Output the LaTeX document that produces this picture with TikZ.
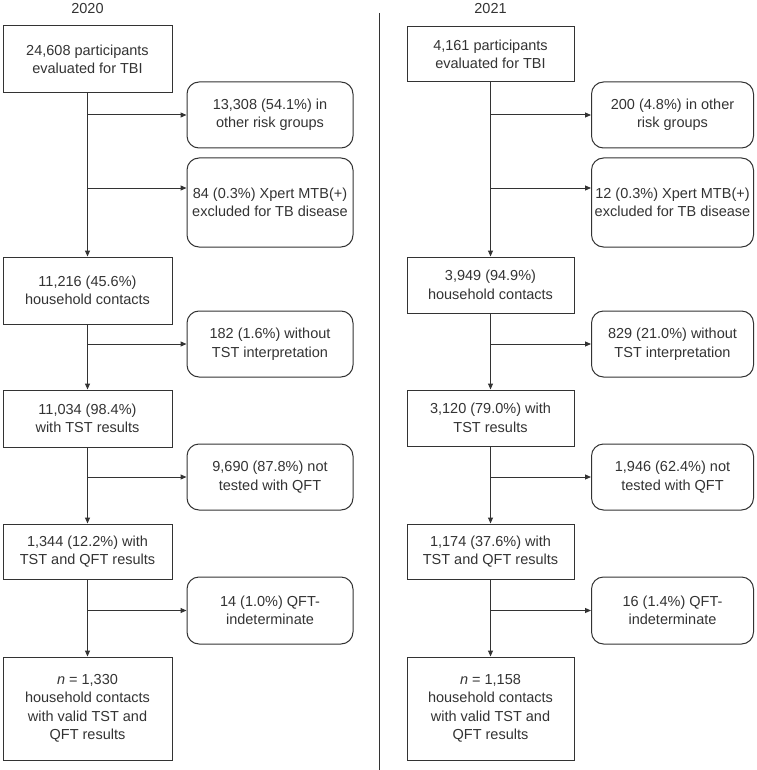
\documentclass[tikz,border=0pt]{standalone}
\usepackage{fontspec}
\setmainfont{Liberation Sans}
\usetikzlibrary{arrows.meta}
\definecolor{ink}{HTML}{333333}

\begin{document}
\begin{tikzpicture}[x=1pt,y=-1pt,>={Stealth[length=6pt,width=5pt,inset=0pt]},
  every node/.style={text=ink,font=\fontsize{14.5}{18.5}\selectfont},
  mainbox/.style={draw=ink,line width=1pt,align=center,inner sep=2pt,minimum width=#1},
  sidebox/.style={mainbox=#1,rounded corners=12pt},
  flow/.style={draw=ink,line width=1pt,->}]
  \useasboundingbox (0,0) rectangle (756,770);
  % headers and divider
  \node (y20) at (87.5,9) {2020};
  \node (y21) at (490.5,9) {2021};
  \draw[ink,line width=1pt] (379,13) -- (379,770);

  % 2020
  \node[mainbox=169pt,minimum height=67pt] (e20) at (87.5,59.5) {24,608 participants\\evaluated for TBI};
  \node[sidebox=166pt,minimum height=66pt] (oth20) at (270,115) {13,308 (54.1\%) in\\other risk groups};
  \node[sidebox=166pt,minimum height=89pt] (xp20) at (270,202.5) {84 (0.3\%) Xpert MTB(+)\\excluded for TB disease};
  \node[mainbox=169pt,minimum height=67pt] (hh20) at (87.5,290.5) {11,216 (45.6\%)\\household contacts};
  \node[sidebox=166pt,minimum height=66pt] (nint20) at (270,344) {182 (1.6\%) without\\TST interpretation};
  \node[mainbox=169pt,minimum height=57pt] (tst20) at (87.5,418.5) {11,034 (98.4\%)\\with TST results};
  \node[sidebox=166pt,minimum height=66pt] (nqft20) at (270,477) {9,690 (87.8\%) not\\tested with QFT};
  \node[mainbox=169pt,minimum height=55pt] (qft20) at (87.5,551.5) {1,344 (12.2\%) with\\TST and QFT results};
  \node[sidebox=166pt,minimum height=67pt] (ind20) at (270,610.5) {14 (1.0\%) QFT-\\indeterminate};
  \node[mainbox=169pt,minimum height=103pt] (fin20) at (87.5,708.5) {\textit{n} = 1,330\\household contacts\\with valid TST and\\QFT results};

  % 2021
  \node[mainbox=167pt,minimum height=55pt] (e21) at (490.5,54.5) {4,161 participants\\evaluated for TBI};
  \node[sidebox=162pt,minimum height=66pt] (oth21) at (672.5,115) {200 (4.8\%) in other\\risk groups};
  \node[sidebox=162pt,minimum height=89pt] (xp21) at (672.5,202.5) {12 (0.3\%) Xpert MTB(+)\\excluded for TB disease};
  \node[mainbox=167pt,minimum height=56pt] (hh21) at (490.5,285) {3,949 (94.9\%)\\household contacts};
  \node[sidebox=162pt,minimum height=66pt] (nint21) at (672.5,344) {829 (21.0\%) without\\TST interpretation};
  \node[mainbox=167pt,minimum height=56pt] (tst21) at (490.5,418) {3,120 (79.0\%) with\\TST results};
  \node[sidebox=162pt,minimum height=66pt] (nqft21) at (672.5,477) {1,946 (62.4\%) not\\tested with QFT};
  \node[mainbox=167pt,minimum height=55pt] (qft21) at (490.5,551.5) {1,174 (37.6\%) with\\TST and QFT results};
  \node[sidebox=162pt,minimum height=67pt] (ind21) at (672.5,610.5) {16 (1.4\%) QFT-\\indeterminate};
  \node[mainbox=167pt,minimum height=103pt] (fin21) at (490.5,708.5) {\textit{n} = 1,158\\household contacts\\with valid TST and\\QFT results};

  % connectors, both years
  \foreach \y in {20,21} {
    \coordinate (xpin\y) at ([yshift=14.5pt]xp\y.west);
    \draw[flow] (e\y) -- (hh\y);
    \draw[flow] (hh\y) -- (tst\y);
    \draw[flow] (tst\y) -- (qft\y);
    \draw[flow] (qft\y) -- (fin\y);
    \draw[flow] (e\y.south |- oth\y.west) -- (oth\y.west);
    \draw[flow] (e\y.south |- xpin\y) -- (xpin\y);
    \draw[flow] (hh\y.south |- nint\y.west) -- (nint\y.west);
    \draw[flow] (tst\y.south |- nqft\y.west) -- (nqft\y.west);
    \draw[flow] (qft\y.south |- ind\y.west) -- (ind\y.west);
  }
\end{tikzpicture}
\end{document}
